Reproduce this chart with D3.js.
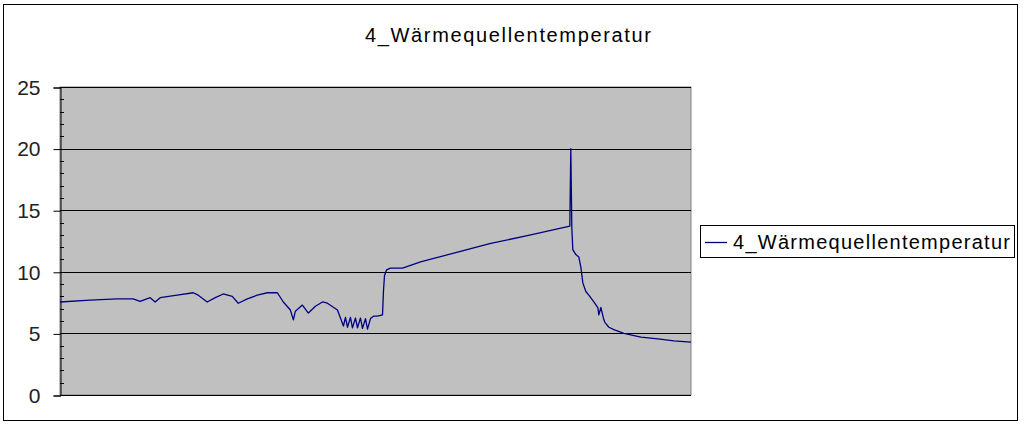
<!DOCTYPE html>
<html><head><meta charset="utf-8">
<script src="https://cdn.jsdelivr.net/npm/d3@7"></script>
<style>html,body{margin:0;padding:0;background:#fff;}svg{display:block;font-family:"Liberation Sans",Arial,sans-serif;}</style>
</head><body>
<script>
const title = "4_Wärmequellentemperatur";
const seriesName = "4_Wärmequellentemperatur";
const yTicks = [0, 5, 10, 15, 20, 25];
const t = [0,30,57,73,80,90,95,100,117,133,138,147,155,163,172,178,187,197,207,217,223,230,233,235,242,248,255,262,267,277,280,283,285,287,290,292,295,297,300,302,305,307,310,313,317,322,323,324,326,330,342,360,397,430,470,509,510,511,512,515,518,520,522,525,528,533,537,538,540,543,544,548,553,563,580,597,613,630];
const v = [7.55,7.7,7.8,7.8,7.6,7.9,7.55,7.9,8.1,8.3,8.1,7.55,7.9,8.2,8.0,7.45,7.8,8.1,8.3,8.3,7.55,6.9,6.1,6.8,7.3,6.65,7.2,7.55,7.45,6.9,6.25,5.6,6.3,5.5,6.3,5.45,6.25,5.45,6.25,5.4,6.2,5.35,6.2,6.4,6.4,6.5,8.5,9.7,10.15,10.3,10.3,10.8,11.6,12.3,13.0,13.7,20.0,13.6,11.8,11.4,11.2,10.4,9.1,8.4,8.1,7.55,7.1,6.5,7.1,6.1,5.9,5.5,5.3,5.0,4.7,4.55,4.4,4.3];

const W = 1024, H = 427;
const svg = d3.select("body").append("svg").attr("width", W).attr("height", H);
svg.append("rect").attr("x",3.5).attr("y",4.5).attr("width",1014).attr("height",416)
  .attr("fill","#fff").attr("stroke","#000").attr("stroke-width",1);

const plot = {l:60, r:691, t:87, b:395};
const x = d3.scaleLinear().domain([0,630]).range([plot.l, plot.r]);
const y = d3.scaleLinear().domain([0,25]).range([plot.b, plot.t]);

svg.append("rect").attr("x",plot.l).attr("y",plot.t).attr("width",plot.r-plot.l).attr("height",plot.b-plot.t)
  .attr("fill","#c0c0c0").attr("stroke","#808080").attr("stroke-width",1);

svg.append("g").selectAll("line").data(yTicks.filter(d=>d>0)).join("line")
  .attr("x1",plot.l).attr("x2",plot.r).attr("y1",d=>Math.round(y(d))+0.5).attr("y2",d=>Math.round(y(d))+0.5)
  .attr("stroke","#000").attr("stroke-width",1);

const minor = d3.range(0,26,1).filter(d=>d%5!==0);
svg.append("g").selectAll("line").data(minor).join("line")
  .attr("x1",plot.l).attr("x2",plot.l+4).attr("y1",d=>Math.round(y(d))+0.5).attr("y2",d=>Math.round(y(d))+0.5)
  .attr("stroke","#000");

const yAxis = d3.axisLeft(y).tickValues(yTicks).tickSize(7).tickPadding(13).tickFormat(d3.format("d"));
const ga = svg.append("g").attr("transform",`translate(${plot.l+0.5},0.5)`).call(yAxis);
ga.select(".domain").attr("stroke","#000");
ga.selectAll("text").attr("font-size",21).attr("fill","#222").attr("font-family","Liberation Sans, Arial, sans-serif");
svg.append("line").attr("x1",plot.l).attr("x2",plot.r).attr("y1",plot.b+0.5).attr("y2",plot.b+0.5).attr("stroke","#000");

const data = t.map((d,i)=>[d, v[i]]);
svg.append("path").datum(data).attr("fill","none").attr("stroke","#000080").attr("stroke-width",1.3)
  .attr("stroke-linejoin","round")
  .attr("d", d3.line().x(d=>x(d[0])).y(d=>y(d[1])));

svg.append("text").attr("x",365).attr("y",42).attr("font-size",20).attr("fill","#000")
  .attr("textLength",286).attr("lengthAdjust","spacing").text(title);

svg.append("rect").attr("x",700.5).attr("y",225.5).attr("width",314).attr("height",32).attr("fill","#fff").attr("stroke","#000");
svg.append("line").attr("x1",705).attr("x2",727).attr("y1",242.5).attr("y2",242.5).attr("stroke","#000080").attr("stroke-width",1.3);
svg.append("text").attr("x",733).attr("y",249).attr("font-size",20).attr("fill","#000")
  .attr("textLength",277).attr("lengthAdjust","spacing").text(seriesName);
</script>
</body></html>
